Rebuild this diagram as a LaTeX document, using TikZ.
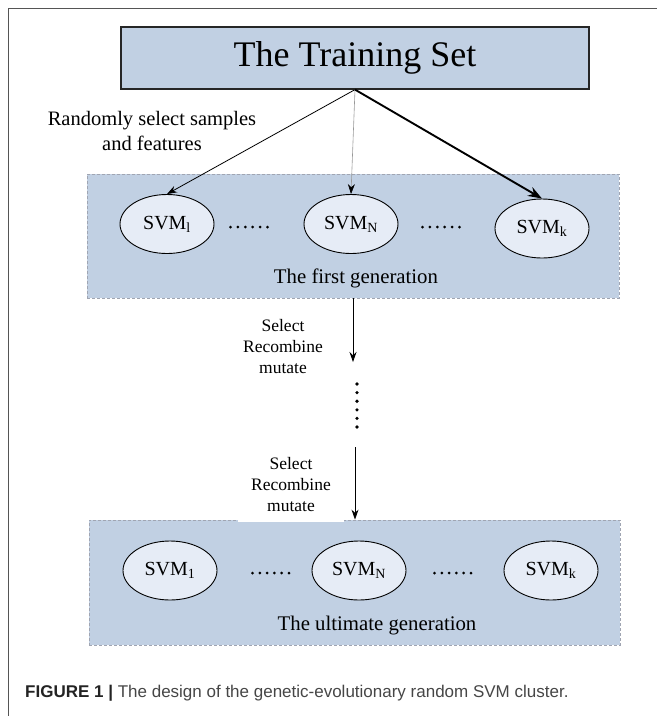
\documentclass[tikz,border=0pt]{standalone}
\usepackage{fontspec}
\setmainfont{Liberation Serif}
\newfontfamily\capfont{Liberation Sans}
\usetikzlibrary{shapes.geometric,arrows.meta}
\definecolor{boxblue}{RGB}{193,208,227}
\definecolor{ellfill}{RGB}{230,236,246}
\definecolor{framegray}{RGB}{85,85,85}
\definecolor{dashgray}{RGB}{160,165,178}
\definecolor{capdark}{RGB}{35,35,35}
\definecolor{caplight}{RGB}{70,70,70}
\begin{document}
\begin{tikzpicture}[x=1pt,y=-1pt,
  svm/.style={ellipse,draw=black,line width=0.9pt,fill=ellfill,minimum width=94pt,minimum height=59pt,inner sep=0pt,font=\fontsize{20}{24}\selectfont},
  genbox/.style={rectangle,draw=dashgray,dash pattern=on 3pt off 2pt,line width=0.8pt,fill=boxblue,inner sep=0pt},
  genlabel/.style={font=\fontsize{20.8}{24}\selectfont,inner sep=0pt},
  oplabel/.style={align=center,font=\fontsize{17.5}{21}\selectfont,inner sep=0pt},
  arr/.style={-{Stealth[length=10pt,width=7pt]},line width=0.8pt},
  dotmark/.style={fill=black},
  frameline/.style={draw=framegray,line width=1pt}
]
\useasboundingbox (0,0) rectangle (657,716);
% outer frame
\draw[frameline] (8,716) -- (8,8) -- (657,8);

% training set
\node[rectangle,draw=black!85,line width=1.2pt,fill=boxblue,minimum width=468pt,minimum height=62pt,inner sep=0pt,font=\fontsize{36}{40}\selectfont] (train) at (355,58) {The Training Set};

\node[align=center,font=\fontsize{20.5}{25}\selectfont,inner sep=0pt] (rand) at (152,130.5) {Randomly select samples\\and features};

% first generation
\node[genbox,minimum width=532pt,minimum height=124pt] (gen1) at (353,236) {};
\node[svm] (s1) at (167,224) {SVM\textsubscript{l}};
\node[svm] (sN) at (351,224) {SVM\textsubscript{N}};
\node[svm] (sk) at (542,228.5) {SVM\textsubscript{k}};
\node[genlabel] (g1lab) at (356,278) {The first generation};
\foreach \i in {0,...,5} {
  \fill[dotmark] (230.5+\i*7.4,227) circle (1.5pt);
  \fill[dotmark] (422.5+\i*7.4,227) circle (1.5pt);
}

% arrows from training set
\draw[arr] (train.south) -- (s1.north);
\draw[-{Stealth[length=10pt,width=7pt,black]},draw=black!40,line width=0.6pt] (train.south) -- (sN.north);
\draw[-{Stealth[length=14pt,width=10pt]},line width=1.9pt] (train.south) -- (sk.north);

% evolution steps
\coordinate (a1end) at (353,362);
\draw[arr] (gen1.south) -- (a1end);
\node[oplabel] (op1) at (283,347) {Select\\Recombine\\mutate};
\foreach \i in {0,...,5} {
  \fill[dotmark] (357,384+\i*8.6) circle (1.8pt);
}

% ultimate generation
\node[genbox,minimum width=531pt,minimum height=125pt] (gen2) at (354.5,582.5) {};
\node[oplabel,fill=white,inner xsep=13.5pt,inner ysep=0pt,minimum height=73pt] (op2) at (291,485) {Select\\Recombine\\mutate};
\coordinate (a2start) at (355,447);
\draw[arr] (a2start) -- (gen2.north -| a2start);
\node[svm] (u1) at (170,570.5) {SVM\textsubscript{1}};
\node[svm] (uN) at (359,570.5) {SVM\textsubscript{N}};
\node[svm] (uk) at (551,570.5) {SVM\textsubscript{k}};
\node[genlabel] (g2lab) at (377,626) {The ultimate generation};
\foreach \i in {0,...,5} {
  \fill[dotmark] (252.5+\i*7.3,573) circle (1.5pt);
  \fill[dotmark] (434.5+\i*7.3,573) circle (1.5pt);
}

% caption
\node[anchor=west,inner sep=0pt,font=\capfont\fontsize{17}{20}\selectfont] (cap) at (25,693) {\textcolor{capdark}{\bfseries FIGURE 1 |} \textcolor{caplight}{The design of the genetic-evolutionary random SVM cluster.}};
\end{tikzpicture}
\end{document}
